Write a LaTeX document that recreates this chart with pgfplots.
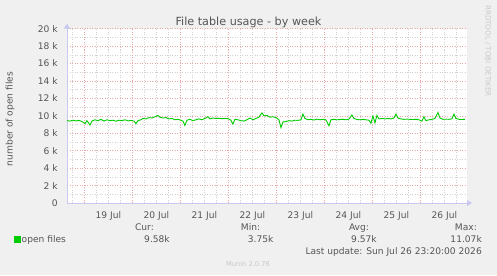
\documentclass[border=0pt]{standalone}
\usepackage{pgfplots}
\pgfplotsset{compat=1.18}
\usepackage{fontspec}
\setmainfont{DejaVu Sans}
\usetikzlibrary{arrows.meta}
\definecolor{bg}{HTML}{F0F0F0}
\definecolor{txt}{HTML}{555555}
\definecolor{faint}{HTML}{C8C8C8}
\definecolor{majgrid}{HTML}{E8A8A8}
\definecolor{mingrid}{HTML}{D0D0D0}
\definecolor{axiscol}{HTML}{C8C8F0}
\definecolor{series}{HTML}{00CC00}
\newcommand{\dfont}{\fontsize{9.1bp}{11bp}\selectfont}
\begin{document}
\begin{tikzpicture}[x=1bp,y=1bp]
\useasboundingbox (0,0) rectangle (497,275);
\fill[bg] (0,0) rectangle (497,275);
\begin{axis}[
  at={(67bp,72bp)}, anchor=south west,
  scale only axis, width=400bp, height=174.3bp,
  xmin=15.33, xmax=215.33, ymin=0, ymax=20,
  axis background/.style={fill=white},
  axis x line=bottom, axis y line=left,
  axis line style={axiscol, line width=0.8bp},
  every outer x axis line/.append style={-{Triangle[length=5bp,width=6bp]}, shorten >=-5bp},
  every outer y axis line/.append style={-{Triangle[length=5bp,width=6bp]}, shorten >=-5bp},
  xtick={36,60,84,108,132,156,180,204},
  xticklabels={19 Jul,20 Jul,21 Jul,22 Jul,23 Jul,24 Jul,25 Jul,26 Jul},
  xtick style={draw=none},
  extra x ticks={24,48,72,96,120,144,168,192},
  extra x tick labels={},
  extra x tick style={xmajorgrids=true, major x grid style={majgrid, line width=0.6bp, dash pattern=on 1bp off 1.5bp},
     tick style={draw=majgrid, line width=0.6bp}, tick align=outside, major tick length=3bp},
  minor xtick={18,30,36,42,54,60,66,78,84,90,102,108,114,126,132,138,150,156,162,174,180,186,198,204,210},
  xminorgrids=true, minor x grid style={mingrid, line width=0.6bp, dash pattern=on 1bp off 1.5bp},
  minor x tick style={draw=none},
  ytick={0,2,4,6,8,10,12,14,16,18,20},
  yticklabels={0,2 k,4 k,6 k,8 k,10 k,12 k,14 k,16 k,18 k,20 k},
  ytick style={draw=none},
  ymajorgrids=true, major y grid style={majgrid, line width=0.6bp, dash pattern=on 1bp off 1.5bp},
  minor ytick={1,3,5,7,9,11,13,15,17,19},
  yminorgrids=true, minor y grid style={mingrid, line width=0.6bp, dash pattern=on 1bp off 1.5bp},
  minor y tick style={draw=none},
  x tick label style={font=\dfont, text=txt, anchor=base, inner sep=0pt, yshift=-13.7bp},
  y tick label style={font=\dfont, text=txt, anchor=east, inner sep=0pt, xshift=-7bp},
  legend style={at={(rel axis cs:-0.1325,-0.2106)}, anchor=west, draw=none, fill=none,
     inner sep=0pt, font=\dfont, text=txt, nodes={inner sep=0.6bp}},
  legend image code/.code={\fill[series] (0bp,-3bp) rectangle (6bp,3bp);},
  clip=false,
]
\addplot[series, line width=0.9bp] table[x=h, y=k] {
h k
15.3 9.45
16.8 9.40
18.3 9.50
19.8 9.42
21.3 9.48
22.8 9.35
24.3 9.10
25.3 9.45
26.8 8.95
27.8 9.40
29.3 9.55
30.8 9.45
32.3 9.60
33.8 9.40
35.3 9.55
36.8 9.45
38.3 9.50
39.8 9.38
41.3 9.50
42.8 9.45
44.3 9.55
45.8 9.42
47.3 9.48
48.8 9.40
49.8 9.10
50.8 9.45
52.3 9.55
53.3 9.70
54.8 9.65
56.3 9.80
57.8 9.75
59.3 9.90
60.8 10.05
61.8 9.85
63.3 9.75
64.8 9.80
66.3 9.65
67.8 9.70
69.3 9.55
70.8 9.60
72.3 9.50
73.3 9.40
74.3 8.90
75.3 9.50
76.8 9.60
78.3 9.45
79.8 9.55
81.3 9.65
82.8 9.55
84.3 9.70
85.8 9.90
86.8 9.65
88.3 9.75
89.8 9.70
91.3 9.72
92.8 9.68
94.3 9.70
95.8 9.68
97.3 9.50
98.3 9.05
99.3 9.60
100.8 9.55
102.3 9.45
103.8 9.40
105.3 9.55
106.8 9.75
108.3 9.55
109.8 9.70
111.3 9.85
112.8 10.35
113.8 10.00
115.3 10.05
116.8 9.85
118.3 9.90
119.8 9.80
121.3 9.55
122.3 8.65
123.3 9.30
124.8 9.35
126.3 9.45
127.8 9.40
129.3 9.50
130.8 9.48
132.3 9.55
133.3 10.20
134.3 9.70
135.8 9.55
137.3 9.60
138.8 9.52
140.3 9.62
141.8 9.55
143.3 9.60
144.8 9.55
146.3 8.85
147.3 9.55
148.8 9.60
150.3 9.55
151.8 9.58
153.3 9.60
154.8 9.55
156.3 9.62
157.8 10.10
158.8 9.70
160.3 9.58
161.8 9.55
163.3 9.60
164.8 9.55
166.3 9.50
167.3 9.15
168.3 10.00
169.3 9.20
170.3 10.05
171.3 9.65
172.8 9.70
174.3 9.65
175.8 9.70
177.3 9.65
178.8 9.75
179.8 10.20
180.8 9.75
182.3 9.65
183.8 9.60
185.3 9.62
186.8 9.60
188.3 9.58
189.8 9.60
191.3 9.55
192.8 9.40
193.8 9.90
194.8 9.45
196.3 9.55
197.8 9.60
199.3 9.70
200.8 10.40
201.8 9.75
203.3 9.60
204.8 9.62
206.3 9.60
207.8 9.65
208.8 10.20
209.8 9.70
211.3 9.60
212.8 9.58
214.3 9.60
};
\addlegendentry{open files}
\end{axis}
\node[anchor=base, text=txt, font=\fontsize{11.2bp}{13bp}\selectfont] at (248.5,250) {File table usage - by week};
\node[rotate=90, text=txt, font=\dfont] at (10,156) {number of open files};
\node[rotate=-90, text=faint, font=\fontsize{7.1bp}{8bp}\selectfont] at (488,224) {RRDTOOL / TOBI OETIKER};
\node[anchor=base, text=txt, font=\dfont, inner sep=0pt] at (144.5,44.3) {Cur:};
\node[anchor=base, text=txt, font=\dfont, inner sep=0pt] at (157,32.3) {9.58k};
\node[anchor=base, text=txt, font=\dfont, inner sep=0pt] at (250.5,44.3) {Min:};
\node[anchor=base, text=txt, font=\dfont, inner sep=0pt] at (260.7,32.3) {3.75k};
\node[anchor=base, text=txt, font=\dfont, inner sep=0pt] at (359,44.3) {Avg:};
\node[anchor=base, text=txt, font=\dfont, inner sep=0pt] at (364,32.3) {9.57k};
\node[anchor=base east, text=txt, font=\dfont, inner sep=0pt] at (477,44.3) {Max:};
\node[anchor=base east, text=txt, font=\dfont, inner sep=0pt] at (482,32.3) {11.07k};
\node[anchor=base east, text=txt, font=\dfont, inner sep=0pt] at (482,21) {Last update: Sun Jul 26 23:20:00 2026};
\node[anchor=base, text=faint, font=\fontsize{6.7bp}{8bp}\selectfont, inner sep=0pt] at (248,8.3) {Munin 2.0.76};
\end{tikzpicture}
\end{document}
